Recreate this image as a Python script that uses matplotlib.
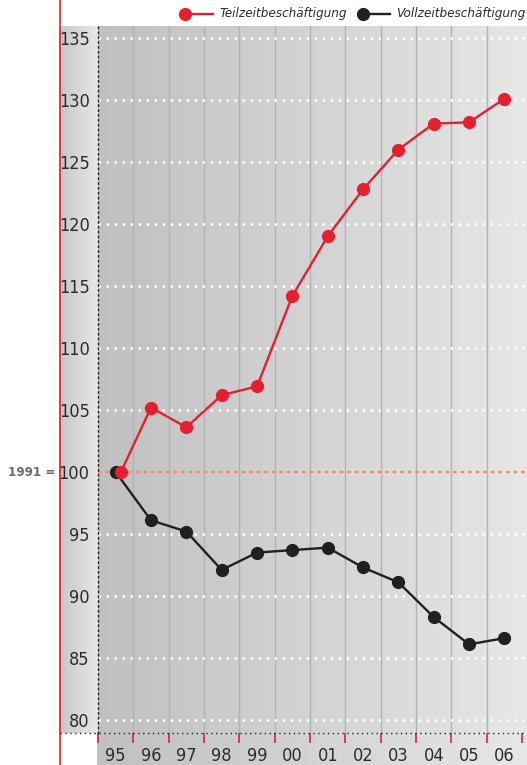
import numpy as np
import matplotlib
matplotlib.use('Agg')
import matplotlib.pyplot as plt
from matplotlib.lines import Line2D
from matplotlib.colors import LinearSegmentedColormap
from matplotlib import font_manager as fm

# Index 1991 = 100
years = ['95', '96', '97', '98', '99', '00', '01', '02', '03', '04', '05', '06']
teilzeit = [100.0, 105.2, 103.6, 106.2, 106.9, 114.2, 119.0, 122.8, 126.0, 128.1, 128.2, 130.1]
vollzeit = [100.0, 96.1, 95.2, 92.1, 93.5, 93.7, 93.9, 92.3, 91.1, 88.3, 86.1, 86.6]
yticks = [80, 85, 90, 95, 100, 105, 110, 115, 120, 125, 130, 135]

RED = '#e3202f'
BLACK = '#231f20'


def pick_font():
    # want something narrow, like the original's condensed face
    for fam, stretch in [('Liberation Sans Narrow', 'normal'),
                         ('DejaVu Sans', 'condensed'),
                         ('Roboto', 'condensed'),
                         ('Roboto', 'normal')]:
        fp = fm.FontProperties(family=fam, stretch=stretch)
        try:
            path = fm.findfont(fp, fallback_to_default=False)
        except Exception:
            continue
        if stretch == 'condensed' and 'ondensed' not in path:
            continue
        return fam, stretch, path
    return 'DejaVu Sans', 'normal', None


FAM, STRETCH, _ = pick_font()
plt.rcParams['font.family'] = [FAM, 'DejaVu Sans']
plt.rcParams['font.stretch'] = STRETCH
narrow = FAM == 'Liberation Sans Narrow' or STRETCH == 'condensed'
TS = 13 if narrow else 11.5
LS = 9.6 if narrow else 8.5

W, H = 527, 765
fig = plt.figure(figsize=(W / 100, H / 100), dpi=100)


def fx(px):
    return px / W


def fy(py):
    return 1 - py / H


grad = LinearSegmentedColormap.from_list('g', ['#c0c0c1', '#e7e7e7'])
ramp = np.linspace(0, 1, 256).reshape(1, -1)

# label column on the left
lab = fig.add_axes([fx(59), fy(733), fx(98) - fx(59), fy(26) - fy(733)])
lab.imshow(ramp, cmap=LinearSegmentedColormap.from_list('l', ['#c6c6c6', '#e8e8e9']),
           aspect='auto', extent=[0, 1, 0, 1])
lab.axis('off')

# band under the plot for the year labels
band = fig.add_axes([fx(97), 0, fx(527) - fx(97), fy(733)])
band.imshow(ramp, cmap=grad, aspect='auto', extent=[0, 1, 0, 1])
band.axis('off')

# plot area
ax = fig.add_axes([fx(98), fy(733), fx(527) - fx(98), fy(26) - fy(733)])
ax.set_zorder(3)
ax.imshow(ramp, cmap=grad, aspect='auto', extent=[0, 1, 0, 1],
          transform=ax.transAxes, zorder=0)

# red line at far left
fig.add_artist(Line2D([fx(59.5), fx(59.5)], [0, 1], color=RED, lw=1.2, zorder=10))
# dotted baseline running under the label column too
fig.add_artist(Line2D([fx(60), 1], [fy(733), fy(733)], color=BLACK, lw=1,
                      linestyle=(0, (1, 2.5)), zorder=10))

x = np.arange(len(years))
ax.set_xlim(-0.5, 11.64)
ax.set_ylim(78.95, 135.97)

# vertical separators
for b in np.arange(0.5, 11.5, 1):
    ax.axvline(b, color='#b2b2b2', lw=1, zorder=1)

# horizontal dotted grid
for v in yticks:
    if v == 100:
        ax.axhline(v, color='#f08a6c', lw=1.6, linestyle=(0, (1.6, 1.8)), zorder=2)
    else:
        ax.axhline(v, color='white', lw=1.8, linestyle=(0, (1, 2.2)), zorder=2)

ax.plot(x, vollzeit, color=BLACK, lw=1.7, marker='o', markersize=8.5, zorder=4)
xt = x.astype(float)
xt[0] += 0.15
ax.plot(xt, teilzeit, color=RED, lw=1.7, marker='o', markersize=8.5, zorder=5)

for s in ['top', 'right', 'bottom']:
    ax.spines[s].set_visible(False)
ax.spines['left'].set_linestyle((0, (1, 2.5)))
ax.spines['left'].set_color(BLACK)
ax.spines['left'].set_linewidth(1)

ax.set_yticks(yticks)
ax.set_yticklabels([str(v) for v in yticks])
ax.tick_params(axis='y', length=0, pad=6, labelsize=TS, labelcolor='#2b2b2b')

ax.set_xticks(x)
ax.set_xticklabels(years)
ax.set_xticks(np.arange(-0.5, 12, 1), minor=True)
ax.tick_params(axis='x', which='major', length=0, pad=10, labelsize=TS, labelcolor='#2b2b2b')
ax.tick_params(axis='x', which='minor', length=7, width=1.2, color=RED, direction='out')

fig.text(fx(55), fy(473), '1991 =', ha='right', va='center', fontsize=9.5,
         fontweight='bold', color='#6b6b6b')

# legend
ly = fy(14)
fig.add_artist(Line2D([fx(185), fx(213)], [ly, ly], color=RED, lw=1.7))
fig.add_artist(Line2D([fx(185)], [ly], color=RED, marker='o', markersize=8.5))
fig.text(fx(219), ly, 'Teilzeitbeschäftigung', ha='left', va='center',
         fontsize=LS, style='italic', color='#2b2b2b')
fig.add_artist(Line2D([fx(363), fx(390)], [ly, ly], color=BLACK, lw=1.7))
fig.add_artist(Line2D([fx(363)], [ly], color=BLACK, marker='o', markersize=8.5))
fig.text(fx(396), ly, 'Vollzeitbeschäftigung', ha='left', va='center',
         fontsize=LS, style='italic', color='#2b2b2b')

fig.savefig('out.png', dpi=100)
